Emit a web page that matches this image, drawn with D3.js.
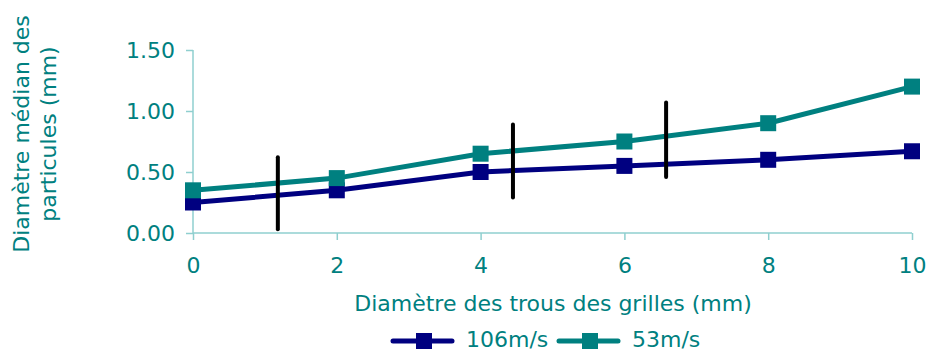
<!DOCTYPE html>
<html><head><meta charset="utf-8">
<script src="https://cdn.jsdelivr.net/npm/d3@7"></script>
<style>body{margin:0;background:#fff}text{font-family:"DejaVu Sans",Verdana,sans-serif}</style>
</head><body><svg id="c" width="927" height="351"></svg>
<script>
const xValues = [0, 2, 4, 6, 8, 10];
const series106 = [0.25, 0.35, 0.50, 0.55, 0.60, 0.67];
const series53 = [0.35, 0.45, 0.65, 0.75, 0.90, 1.20];
const seriesNames = ["106m/s", "53m/s"];
const yTicks = [0, 0.5, 1.0, 1.5];
const xTicks = [0, 2, 4, 6, 8, 10];
// vertical black annotation bars: x position, y bottom, y top (data units)
const barX = [1.18, 4.45, 6.58];
const barLow = [0.03, 0.29, 0.46];
const barHigh = [0.62, 0.89, 1.07];

const teal = "#008080", navy = "#000080", axisCol = "#8fcfcf";
const FS = "22px";
const svg = d3.select("#c");
const x = d3.scaleLinear().domain([0, 10]).range([193, 912]);
const y = d3.scaleLinear().domain([0, 1.5]).range([233, 50]);

const yAxis = svg.append("g").attr("transform", "translate(193,0)")
  .call(d3.axisLeft(y).tickValues(yTicks).tickFormat(d3.format(".2f")).tickSize(7).tickPadding(11));
const xAxis = svg.append("g").attr("transform", "translate(0,233)")
  .call(d3.axisBottom(x).tickValues(xTicks).tickSize(7).tickPadding(17));
[yAxis, xAxis].forEach(g => {
  g.select(".domain").attr("stroke", axisCol).attr("stroke-width", 1.5);
  g.selectAll(".tick line").attr("stroke", axisCol).attr("stroke-width", 1.5);
  g.selectAll("text").attr("fill", teal).style("font-size", FS).style("font-family", "DejaVu Sans");
});
yAxis.select(".domain").attr("d", "M0,233V50");
xAxis.select(".domain").attr("d", "M193,0H912");

const data = [series106, series53];
const colors = [navy, teal];
const line = d3.line().x((d, i) => x(xValues[i])).y(d => y(d));
data.forEach((s, k) => {
  svg.append("path").datum(s).attr("d", line).attr("fill", "none").attr("stroke", colors[k]).attr("stroke-width", 5);
  svg.selectAll(null).data(s).enter().append("rect")
    .attr("x", (d, i) => x(xValues[i]) - 8).attr("y", d => y(d) - 8)
    .attr("width", 16).attr("height", 16).attr("fill", colors[k]);
});

// annotation bars (drawn on top)
barX.forEach((bx, i) => {
  svg.append("line").attr("x1", x(bx)).attr("x2", x(bx)).attr("y1", y(barLow[i])).attr("y2", y(barHigh[i]))
    .attr("stroke", "#000").attr("stroke-width", 4).attr("stroke-linecap", "round");
});

// axis titles
svg.append("text").attr("x", 553).attr("y", 311).attr("text-anchor", "middle")
  .attr("fill", teal).style("font-size", FS).text("Diamètre des trous des grilles (mm)");
const yt = svg.append("text").attr("transform", "translate(0,134) rotate(-90)").attr("text-anchor", "middle")
  .attr("fill", teal).style("font-size", FS);
yt.append("tspan").attr("x", 0).attr("y", 29).text("Diamètre médian des");
yt.append("tspan").attr("x", 0).attr("y", 56).text("particules (mm)");

// legend
const legX = [393, 559];
seriesNames.forEach((n, k) => {
  const lx = legX[k];
  svg.append("line").attr("x1", lx).attr("x2", lx + 59).attr("y1", 341).attr("y2", 341)
    .attr("stroke", colors[k]).attr("stroke-width", 5).attr("stroke-linecap", "round");
  svg.append("rect").attr("x", lx + 23).attr("y", 333).attr("width", 16).attr("height", 16).attr("fill", colors[k]);
  svg.append("text").attr("x", lx + 73).attr("y", 347).attr("fill", teal).style("font-size", FS).text(n);
});
</script></body></html>
